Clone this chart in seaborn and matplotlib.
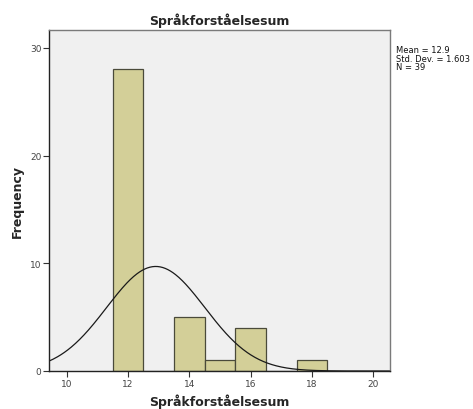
import numpy as np
import pandas as pd
import matplotlib
matplotlib.use("Agg")
import matplotlib.pyplot as plt
import seaborn as sns

# Data
scores = [12, 14, 15, 16, 18]
counts = [28, 5, 1, 4, 1]
mean_val = 12.9
sd_val = 1.603
n_val = 39
x_ticks = [10, 12, 14, 16, 18, 20]
y_ticks = [0, 10, 20, 30]

sns.set_style("ticks")
plt.rcParams['font.family'] = ['DejaVu Sans']

df = pd.DataFrame({"score": scores, "count": counts})

fig = plt.figure(figsize=(4.73, 4.10), dpi=100)
ax = fig.add_axes([49/473, 1 - 372/410, (390-49)/473, (372-31)/410])
ax.set_facecolor("#f0f0f0")

sns.histplot(data=df, x="score", weights="count", binwidth=1, binrange=(11.5, 18.5),
             color="#d3cf98", edgecolor="#4a4a3a", linewidth=0.9, alpha=1, ax=ax)

xs = np.linspace(9.42, 20.54, 400)
ys = n_val * 1.0 * np.exp(-0.5 * ((xs - mean_val) / sd_val) ** 2) / (sd_val * np.sqrt(2 * np.pi))
ax.plot(xs, ys, color="#1a1a1a", linewidth=0.9)

ax.set_xlim(9.42, 20.54)
ax.set_ylim(0, 31.66)
ax.set_xticks(x_ticks)
ax.set_yticks(y_ticks)
ax.tick_params(axis='both', labelsize=6.5, colors="#333333", length=4, width=0.8,
               direction='out', pad=1.5)
ax.tick_params(axis='both', labelcolor="#444444")

for s in ["left", "bottom"]:
    ax.spines[s].set_color("#222222")
    ax.spines[s].set_linewidth(1.0)
for s in ["top", "right"]:
    ax.spines[s].set_visible(True)
    ax.spines[s].set_color("#7a7a7a")
    ax.spines[s].set_linewidth(1.0)

ax.set_xlabel("Språkforståelsesum", fontsize=9, fontweight="bold", labelpad=4)
ax.set_ylabel("Frequency", fontsize=9, fontweight="bold", labelpad=4)
ax.set_title("Språkforståelsesum", fontsize=9, fontweight="bold", pad=4)

fig.text(396/473, 1 - 46/410, f"Mean = {mean_val}\nStd. Dev. = {sd_val}\nN = {n_val}",
         fontsize=6, va="top", ha="left", color="#111111", linespacing=0.95)

fig.savefig("out.png", dpi=100, facecolor="white")
